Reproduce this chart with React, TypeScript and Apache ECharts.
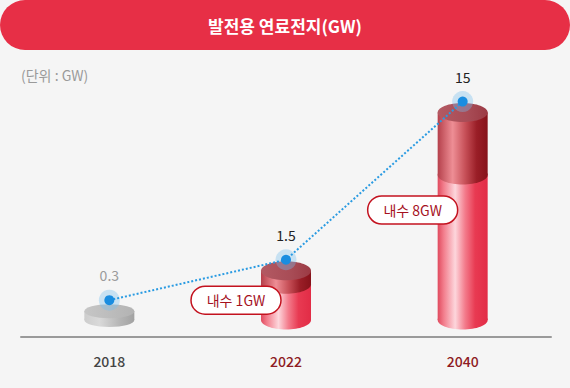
import React, { useEffect, useRef } from 'react';
import * as echarts from 'echarts';

// ---- data ----
const categories = ['2018', '2022', '2040'];
const capacityGW = [0.3, 1.5, 15];
const domesticGW: (number | null)[] = [null, 1, 8];
const domesticLabels = ['', '내수 1GW', '내수 8GW'];
const titleText = '발전용 연료전지(GW)';
const unitText = '(단위 : GW)';

// hidden value axis is a square-root scale
const sqrtScale = (v: number) => Math.sqrt(v);
const Y_MIN = 0.4;
const Y_MAX = 4.0;

const FONT = '"Noto Sans CJK KR", "Noto Sans", sans-serif';

// ---- styles ----
const pillOffsetY = [0, 16, 35];
const catColors = ['#444444', '#8e1b24', '#8e1b24'];
const valueColors = ['#9a9a9a', '#222222', '#222222'];

const grad = (stops: [number, string][]) =>
  new echarts.graphic.LinearGradient(0, 0, 1, 0, stops.map(([offset, color]) => ({ offset, color })));

const graySide = () => grad([[0, '#cdcdcd'], [0.3, '#d9d9d9'], [0.7, '#b6b6b6'], [1, '#a2a2a2']]);
const grayTop = () => grad([[0, '#c6c6c6'], [1, '#b3b3b3']]);
const lightSide = () =>
  grad([[0, '#e04a5e'], [0.12, '#f27d8c'], [0.35, '#fdd6dc'], [0.55, '#f37b8b'], [0.75, '#e83a52'], [1, '#e22c46']]);
const darkSide = () =>
  grad([[0, '#b5404b'], [0.3, '#ee8e95'], [0.55, '#c75058'], [0.78, '#9a1e27'], [1, '#86121a']]);
const darkTop = () => grad([[0, '#b35a63'], [0.6, '#a84c56'], [1, '#9b3a44']]);

export default function App() {
  const ref = useRef<HTMLDivElement>(null);
  useEffect(() => {
    if (!ref.current) return;
    const chart = echarts.init(ref.current, null, { renderer: 'svg' });

    const renderItem = (params: any, api: any) => {
      const i = params.dataIndex;
      const total = capacityGW[i];
      const dom = domesticGW[i];
      const base = api.coord([i, Y_MIN]);
      const top = api.coord([i, sqrtScale(total)]);
      const cx = top[0];
      const rx = 25;
      const children: any[] = [];
      if (dom == null) {
        const ry = 7;
        children.push(
          { type: 'rect', shape: { x: cx - rx, y: top[1], width: rx * 2, height: base[1] - top[1] }, style: { fill: graySide() } },
          { type: 'ellipse', shape: { cx, cy: base[1], rx, ry }, style: { fill: graySide() } },
          { type: 'ellipse', shape: { cx, cy: top[1], rx, ry }, style: { fill: grayTop() } }
        );
      } else {
        const ry = 9.5;
        const domY = api.coord([i, sqrtScale(dom)])[1];
        children.push(
          { type: 'rect', shape: { x: cx - rx, y: domY, width: rx * 2, height: base[1] - domY }, style: { fill: lightSide() } },
          { type: 'ellipse', shape: { cx, cy: base[1], rx, ry }, style: { fill: lightSide() } },
          { type: 'rect', shape: { x: cx - rx, y: top[1], width: rx * 2, height: domY - top[1] }, style: { fill: darkSide() } },
          { type: 'ellipse', shape: { cx, cy: domY, rx, ry }, style: { fill: darkSide() } },
          { type: 'ellipse', shape: { cx, cy: top[1], rx, ry }, style: { fill: darkTop() } }
        );
        const px = cx - 50;
        const py = domY + pillOffsetY[i];
        children.push(
          {
            type: 'rect',
            shape: { x: px - 45, y: py - 14, width: 90, height: 28, r: 14 },
            style: { fill: '#ffffff', stroke: '#c3121f', lineWidth: 1.5 },
          },
          {
            type: 'text',
            x: px,
            y: py,
            style: {
              text: domesticLabels[i],
              fill: '#a5111e',
              font: `14px ${FONT}`,
              align: 'center',
              verticalAlign: 'middle',
            },
          }
        );
      }
      return { type: 'group', children };
    };

    const option: any = {
      animation: false,
      backgroundColor: '#f5f5f5',
      grid: [
        { left: 21, right: 19, top: 105, bottom: 68 },
        { left: 21, right: 19, top: 94, bottom: 79 },
      ],
      xAxis: [
        {
          gridIndex: 0,
          type: 'category',
          data: categories,
          offset: 17,
          axisLine: { lineStyle: { color: '#9a9a9a', width: 2 } },
          axisTick: { show: false },
          axisLabel: {
            margin: 17,
            fontSize: 14,
            fontWeight: 500,
            fontFamily: FONT,
            color: (_v: any, idx: number) => catColors[idx],
          },
        },
        { gridIndex: 1, type: 'category', data: categories, show: false },
      ],
      yAxis: [
        { gridIndex: 0, type: 'value', min: Y_MIN, max: Y_MAX, show: false },
        { gridIndex: 1, type: 'value', min: Y_MIN, max: Y_MAX, show: false },
      ],
      graphic: [
        {
          type: 'rect',
          x: 0,
          y: 0,
          shape: { width: 570, height: 50, r: 25 },
          style: { fill: '#e72f46' },
        },
        {
          type: 'text',
          x: 285,
          y: 25,
          style: {
            text: titleText,
            fill: '#ffffff',
            font: `bold 17px ${FONT}`,
            align: 'center',
            verticalAlign: 'middle',
          },
        },
        {
          type: 'text',
          x: 21,
          y: 75,
          style: {
            text: unitText,
            fill: '#9a9a9a',
            font: `14px ${FONT}`,
            align: 'left',
            verticalAlign: 'middle',
          },
        },
      ],
      series: [
        {
          type: 'custom',
          xAxisIndex: 0,
          yAxisIndex: 0,
          renderItem,
          data: categories.map((_c, i) => [i, sqrtScale(capacityGW[i])]),
          z: 2,
        },
        {
          type: 'scatter',
          xAxisIndex: 1,
          yAxisIndex: 1,
          data: capacityGW.map(sqrtScale),
          symbolSize: 21,
          itemStyle: { color: 'rgba(120,190,238,0.45)' },
          z: 3,
          silent: true,
        },
        {
          type: 'line',
          xAxisIndex: 1,
          yAxisIndex: 1,
          data: capacityGW.map((v, i) => ({
            value: sqrtScale(v),
            label: { color: valueColors[i] },
          })),
          symbol: 'circle',
          symbolSize: 10,
          itemStyle: { color: '#1a8de0' },
          lineStyle: { color: '#2a9be2', width: 2, type: [2, 2] },
          label: {
            show: true,
            position: 'top',
            distance: 13,
            fontSize: 14,
            fontFamily: FONT,
            formatter: (p: any) => String(capacityGW[p.dataIndex]),
          },
          z: 4,
        },
      ],
    };
    chart.setOption(option);
    return () => chart.dispose();
  }, []);

  return (
    <div
      ref={ref}
      style={{ position: 'fixed', left: 0, top: 0, width: 570, height: 388, background: '#f5f5f5' }}
    />
  );
}
